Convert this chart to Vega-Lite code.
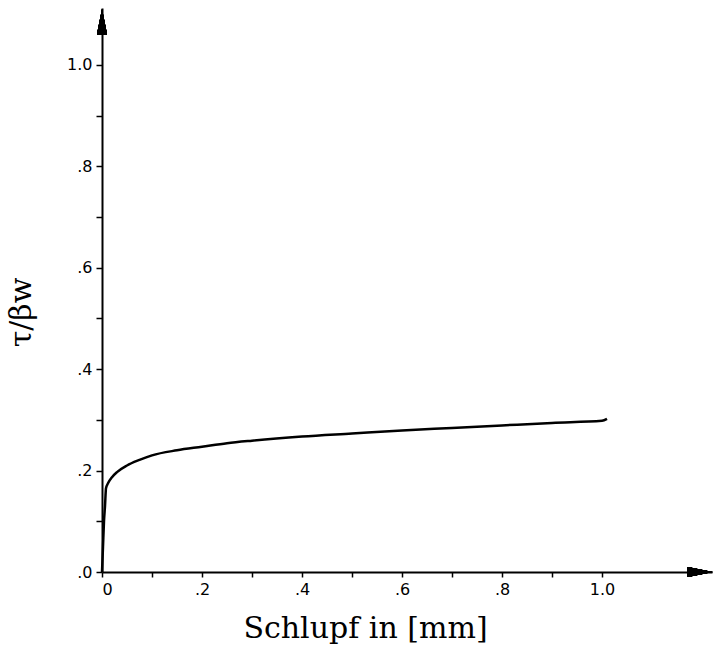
{
  "$schema": "https://vega.github.io/schema/vega-lite/v6.json",
  "width": 610,
  "height": 564,
  "autosize": "none",
  "padding": {"left": 102, "top": 8, "right": 1, "bottom": 77},
  "background": "white",
  "config": {"view": {"stroke": null}},
  "data": {"values": [
    {"s": 0, "t": 0},
    {"s": 0.002, "t": 0.05},
    {"s": 0.004, "t": 0.10},
    {"s": 0.006, "t": 0.13},
    {"s": 0.008, "t": 0.165},
    {"s": 0.012, "t": 0.175},
    {"s": 0.02, "t": 0.187},
    {"s": 0.03, "t": 0.197},
    {"s": 0.05, "t": 0.21},
    {"s": 0.075, "t": 0.221},
    {"s": 0.1, "t": 0.23},
    {"s": 0.15, "t": 0.24},
    {"s": 0.2, "t": 0.247},
    {"s": 0.25, "t": 0.254},
    {"s": 0.3, "t": 0.259},
    {"s": 0.4, "t": 0.267},
    {"s": 0.5, "t": 0.273},
    {"s": 0.6, "t": 0.279},
    {"s": 0.7, "t": 0.284},
    {"s": 0.8, "t": 0.289},
    {"s": 0.9, "t": 0.294},
    {"s": 1.0, "t": 0.298},
    {"s": 1.01, "t": 0.302}
  ]},
  "layer": [
    {
      "mark": {"type": "line", "color": "black", "strokeWidth": 2.5, "interpolate": "monotone"},
      "encoding": {
        "x": {"field": "s", "type": "quantitative",
          "scale": {"domain": [0, 1.22], "nice": false, "zero": true},
          "axis": {
            "title": "Schlupf in [mm]",
            "titleFont": "DejaVu Serif", "titleFontSize": 30, "titleFontWeight": "normal",
            "titleColor": "black", "titlePadding": 16,
            "titleX": 263, "titleAnchor": null, "titleAlign": "center",
            "values": [0, 0.1, 0.2, 0.3, 0.4, 0.5, 0.6, 0.7, 0.8, 0.9, 1.0],
            "labelExpr": "round(datum.value*10) % 2 == 1 ? '' : (datum.value == 0 ? '0' : (datum.value > 0.99 ? '1.0' : replace(format(datum.value, '.1f'), '0.', '.')))",
            "labelFont": "DejaVu Sans", "labelFontSize": 16, "labelColor": "black",
            "labelPadding": 4,
            "domainColor": "black", "domainWidth": 2,
            "tickColor": "black", "tickWidth": 1.5, "tickSize": 5,
            "grid": false
          }
        },
        "y": {"field": "t", "type": "quantitative",
          "scale": {"domain": [0, 1.112], "nice": false, "zero": true},
          "axis": {
            "title": "τ/βw",
            "titleFont": "DejaVu Serif", "titleFontSize": 30, "titleFontWeight": "normal",
            "titleColor": "black", "titlePadding": 30,
            "titleY": 304, "titleAnchor": null, "titleAlign": "center",
            "values": [0, 0.1, 0.2, 0.3, 0.4, 0.5, 0.6, 0.7, 0.8, 0.9, 1.0],
            "labelExpr": "round(datum.value*10) % 2 == 1 ? '' : (datum.value > 0.99 ? '1.0' : replace(format(datum.value, '.1f'), '0.', '.'))",
            "labelFont": "DejaVu Sans", "labelFontSize": 16, "labelColor": "black",
            "labelPadding": 4,
            "domainColor": "black", "domainWidth": 2,
            "tickColor": "black", "tickWidth": 1.5, "tickSize": 6,
            "grid": false
          }
        }
      }
    },
    {
      "mark": {"type": "point", "shape": "M0,-1L0.4,1L-0.4,1Z", "size": 625, "filled": true, "color": "black", "opacity": 1},
      "encoding": {"x": {"datum": 0}, "y": {"datum": 1.085}}
    },
    {
      "mark": {"type": "point", "shape": "M1,0L-1,-0.4L-1,0.4Z", "size": 625, "filled": true, "color": "black", "opacity": 1},
      "encoding": {"x": {"datum": 1.196}, "y": {"datum": 0}}
    }
  ]
}
